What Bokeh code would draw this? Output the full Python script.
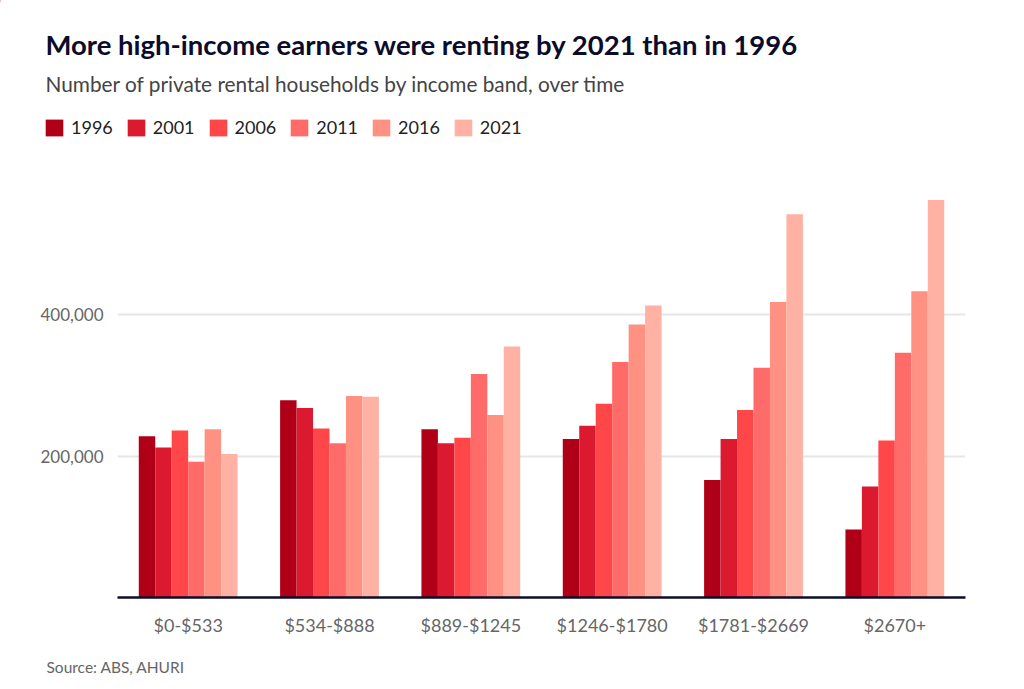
from bokeh.plotting import figure
from bokeh.layouts import column
from bokeh.models import (ColumnDataSource, FactorRange, Range1d, FixedTicker,
                          Legend, LegendItem, NumeralTickFormatter)
from bokeh.transform import dodge
from bokeh.core.properties import value
from bokeh.embed import file_html
from bokeh.resources import INLINE

title_text = "More high-income earners were renting by 2021 than in 1996"
subtitle_text = "Number of private rental households by income band, over time"
source_text = "Source: ABS, AHURI"

bands = ["$0-$533", "$534-$888", "$889-$1245", "$1246-$1780", "$1781-$2669", "$2670+"]
years = ["1996", "2001", "2006", "2011", "2016", "2021"]
v1996 = [228000, 279000, 238000, 224000, 166000, 96000]
v2001 = [212000, 268000, 218000, 243000, 224000, 157000]
v2006 = [236000, 239000, 226000, 274000, 265000, 222000]
v2011 = [192000, 218000, 316000, 333000, 325000, 346000]
v2016 = [238000, 285000, 258000, 386000, 418000, 433000]
v2021 = [203000, 284000, 355000, 413000, 542000, 562000]
colors = ["#b00018", "#db1a30", "#ff4648", "#ff6b68", "#ff9183", "#ffb2a3"]
y_ticks = [200000, 400000]

FONT = "Lato"
W = 1008


def bare(fig):
    fig.axis.visible = False
    fig.grid.grid_line_color = None
    fig.outline_line_color = None
    return fig


# ---------- header ----------
HH = 160
hdr = bare(figure(width=W, height=HH, x_range=Range1d(0, W), y_range=Range1d(HH, 0),
                  output_backend="svg", toolbar_location=None, min_border=0,
                  frame_align=False))
hdr.text(x=[45], y=[44], text=[title_text], text_font=value(FONT),
         text_font_style="bold", text_font_size="27.5px", text_color="#0b0b2a",
         text_baseline="middle")
hdr.text(x=[45], y=[83], text=[subtitle_text], text_font=value(FONT),
         text_font_size="20.8px", text_color="#444444", text_baseline="middle")
leg_renderers = []
for c in colors:
    # off-screen dummy bar, used only for the legend swatch
    leg_renderers.append(hdr.vbar(x=[-500], top=[1], width=1, fill_color=c, line_color=None))
legend = Legend(items=[LegendItem(label=y, renderers=[r]) for y, r in zip(years, leg_renderers)],
                orientation="horizontal", location=(43, HH - 138),
                glyph_width=22, glyph_height=21, label_height=21,
                label_standoff=6, spacing=12, padding=0, margin=0,
                border_line_color=None, background_fill_alpha=0,
                label_text_font=FONT, label_text_font_size="18px",
                label_text_color="#222222", label_text_baseline="middle")
hdr.add_layout(legend, "center")

# ---------- main chart ----------
series = [v1996, v2001, v2006, v2011, v2016, v2021]
data = {"band": bands}
for y, s in zip(years, series):
    data["y" + y] = s
source = ColumnDataSource(data)

p = figure(width=W, height=437 + 48, x_range=FactorRange(*bands, range_padding=0),
           y_range=Range1d(0, 618000), output_backend="svg", toolbar_location=None,
           min_border_left=117, min_border_right=43, min_border_top=0,
           min_border_bottom=48, outline_line_color=None, frame_align=False)

bw = 0.1165
for i, (y, c) in enumerate(zip(years, colors)):
    p.vbar(x=dodge("band", (i - 2.5) * bw, range=p.x_range), top="y" + y,
           width=bw, source=source, fill_color=c, line_color=None)

p.yaxis.ticker = FixedTicker(ticks=y_ticks)
p.yaxis.formatter = NumeralTickFormatter(format="0,0")
p.yaxis.axis_line_color = None
p.yaxis.major_tick_line_color = None
p.yaxis.minor_tick_line_color = None
p.yaxis.major_label_text_font = FONT
p.yaxis.major_label_text_font_size = "17px"
p.yaxis.major_label_text_color = "#666666"
p.yaxis.major_label_standoff = 8

p.xaxis.axis_line_color = "#0d0d2b"
p.xaxis.axis_line_width = 2.5
p.xaxis.major_tick_line_color = None
p.xaxis.minor_tick_line_color = None
p.xaxis.major_label_text_font = FONT
p.xaxis.major_label_text_font_size = "18px"
p.xaxis.major_label_text_color = "#666666"
p.xaxis.major_label_standoff = 10

p.xgrid.grid_line_color = None
p.ygrid.ticker = FixedTicker(ticks=y_ticks)
p.ygrid.grid_line_color = "#e6e6e6"
p.ygrid.grid_line_width = 2

# ---------- footer ----------
FH = 40
ftr = bare(figure(width=W, height=FH, x_range=Range1d(0, W), y_range=Range1d(FH, 0),
                  output_backend="svg", toolbar_location=None, min_border=0,
                  frame_align=False))
ftr.text(x=[46], y=[21], text=[source_text], text_font=value(FONT),
         text_font_size="15.5px", text_color="#666666", text_baseline="middle")

layout = column(hdr, p, ftr, spacing=0)
open("out.html", "w").write(file_html(layout, INLINE))
